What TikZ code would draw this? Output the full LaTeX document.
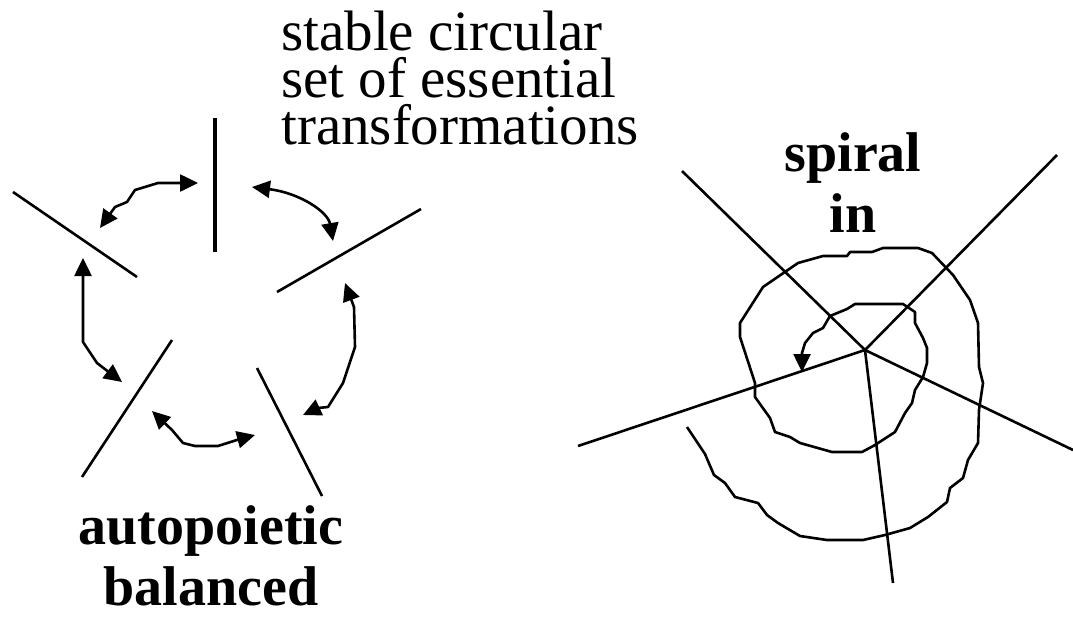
\documentclass[tikz,border=0pt]{standalone}
\usepackage{fontspec}
\setmainfont{Liberation Serif}
\usetikzlibrary{arrows.meta,positioning}

\begin{document}
\begin{tikzpicture}[
    x=1pt, y=-1pt,
    spoke/.style={line width=2.6pt},
    turn/.style={line width=2.6pt, line join=round},
    normaltext/.style={inner sep=0pt, font=\fontsize{57}{47}\selectfont, align=left},
    headtext/.style={inner sep=0pt, font=\fontsize{56}{61}\selectfont\bfseries, align=center},
    >={Triangle[length=18pt,width=17pt]}
]
\useasboundingbox (0,0) rectangle (1073,616);

% left: five parts of the balanced cycle
\draw[spoke, line width=3.4pt] (215,118) -- (215,252);
\draw[spoke] (13,192) -- (137,277);
\draw[spoke] (421,209) -- (277,292);
\draw[spoke] (172,340) -- (82,477);
\draw[spoke] (257,368) -- (322,496);

\draw[turn, <->] (100,228) -- (115,207) -- (127,202) -- (135,190) -- (158,183) -- (198,183);
\draw[turn, <->] (252,187) .. controls (300,193) and (328,212) .. (333,241);
\draw[turn, <->] (83,258) -- (83,342) -- (97,363) -- (110,373) -- (122,382);
\draw[turn, <->] (152,411) -- (172,430) -- (183,443) -- (195,446) -- (218,446) -- (240,439) -- (255,435);
\draw[turn, <->] (345,283) -- (354,307) -- (355,347) -- (343,383) -- (328,407) -- (318,408) -- (303,415);

\node[normaltext, anchor=base west] (stable) at (281,144)
    {stable circular\\set of essential\\transformations};
\node[headtext, anchor=base] (auto) at (211,605) {autopoietic\\balanced};

% right: spiral in
\coordinate (hub) at (865,350);
\draw[spoke] (hub) -- (682,171);
\draw[spoke] (hub) -- (1057,155);
\draw[spoke] (hub) -- (578,446);
\draw[spoke] (hub) -- (1073,450);
\draw[spoke] (hub) -- (893,583);

\draw[turn, ->] (687,427) -- (705,454) -- (714,475) -- (725,483) -- (735,497)
    -- (758,503) -- (767,515) -- (778,523) -- (800,536) -- (827,540) -- (863,540)
    -- (885,535) -- (910,528) -- (928,517) -- (947,502) -- (950,488) -- (963,478)
    -- (968,460) -- (978,443) -- (979,410) -- (983,383) -- (979,367) -- (978,323)
    -- (970,300) -- (953,275) -- (932,253) -- (918,248) -- (883,248) -- (872,252)
    -- (850,252) -- (847,256) -- (823,256) -- (798,263) -- (763,287) -- (740,323)
    -- (740,337) -- (755,383) -- (755,397) -- (770,418) -- (775,432) -- (790,437)
    -- (800,443) -- (832,452) -- (862,452) -- (875,445) -- (895,432) -- (905,413)
    -- (912,403) -- (915,390) -- (923,377) -- (927,363) -- (927,348) -- (923,338)
    -- (915,323) -- (915,312) -- (903,304) -- (855,304) -- (847,309) -- (830,316)
    -- (823,328) -- (813,333) -- (805,343) -- (802,353) -- (802,372);

\node[headtext, anchor=base] (spiral) at (853,232) {spiral\\in};
\end{tikzpicture}
\end{document}
